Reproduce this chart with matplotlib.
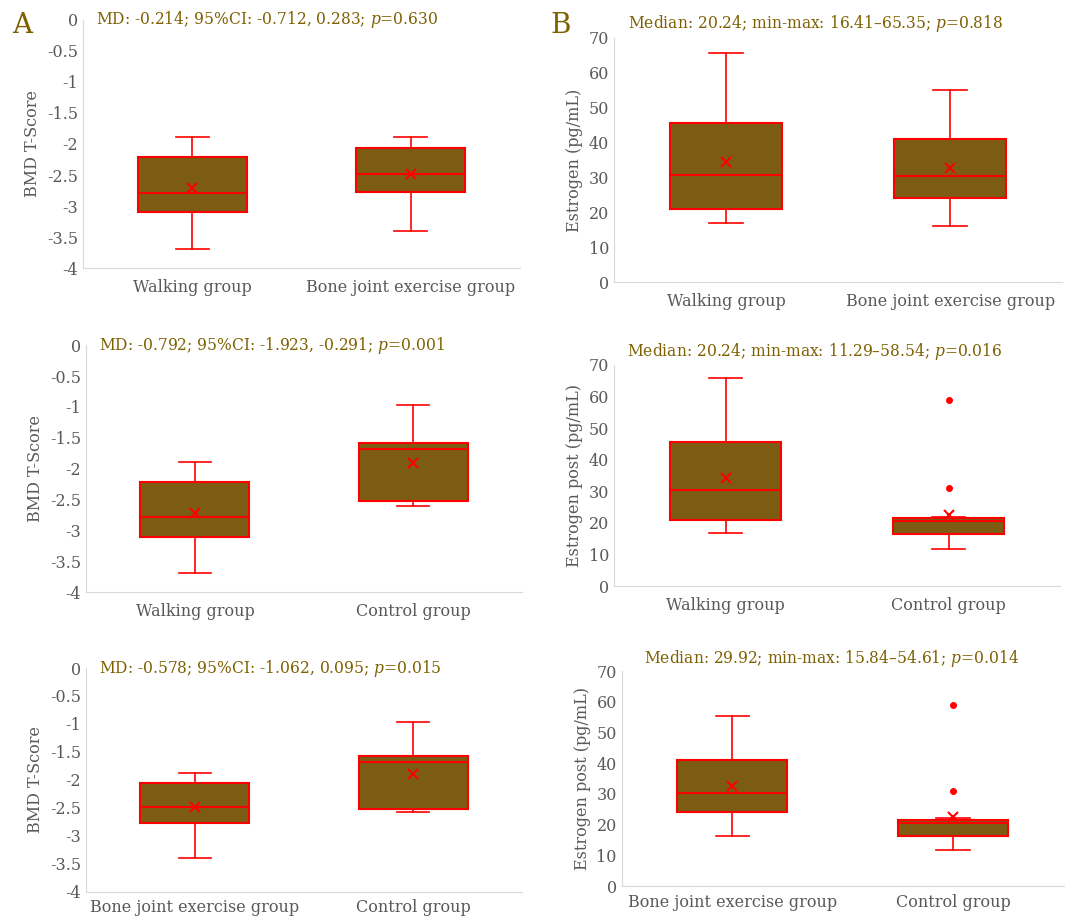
import numpy as np
import matplotlib
matplotlib.use("Agg")
import matplotlib.pyplot as plt

plt.rcParams['font.family'] = ['DejaVu Serif']
plt.rcParams['mathtext.fontset'] = 'dejavuserif'

olive = '#7F6000'
fill = '#7B5C12'
red = '#FF0000'
grey = '#595959'

# panel data: (labels, q1, median, q3, whisker low, whisker high, mean, fliers)
bmd_wc_labels = ['Walking group', 'Bone joint exercise group']
bmd_wc_q1 = [-3.10, -2.77]
bmd_wc_med = [-2.79, -2.48]
bmd_wc_q3 = [-2.21, -2.06]
bmd_wc_lo = [-3.69, -3.40]
bmd_wc_hi = [-1.89, -1.89]
bmd_wc_mean = [-2.71, -2.48]

bmd_wk_labels = ['Walking group', 'Control group']
bmd_wk_q1 = [-3.10, -2.53]
bmd_wk_med = [-2.79, -1.68]
bmd_wk_q3 = [-2.21, -1.58]
bmd_wk_lo = [-3.69, -2.60]
bmd_wk_hi = [-1.89, -0.97]
bmd_wk_mean = [-2.71, -1.90]

bmd_bj_labels = ['Bone joint exercise group', 'Control group']
bmd_bj_q1 = [-2.77, -2.51]
bmd_bj_med = [-2.48, -1.67]
bmd_bj_q3 = [-2.06, -1.57]
bmd_bj_lo = [-3.40, -2.57]
bmd_bj_hi = [-1.88, -0.97]
bmd_bj_mean = [-2.48, -1.89]

est_wc_labels = ['Walking group', 'Bone joint exercise group']
est_wc_q1 = [21.0, 24.0]
est_wc_med = [30.7, 30.5]
est_wc_q3 = [45.6, 40.9]
est_wc_lo = [16.8, 16.2]
est_wc_hi = [65.6, 55.2]
est_wc_mean = [34.3, 32.6]

est_wk_labels = ['Walking group', 'Control group']
est_wk_q1 = [20.9, 16.4]
est_wk_med = [30.3, 20.6]
est_wk_q3 = [45.5, 21.6]
est_wk_lo = [16.9, 11.7]
est_wk_hi = [65.8, 22.0]
est_wk_mean = [34.3, 22.5]
est_wk_fliers = [[], [58.9, 30.9]]

est_bj_labels = ['Bone joint exercise group', 'Control group']
est_bj_q1 = [24.1, 16.4]
est_bj_med = [30.4, 20.6]
est_bj_q3 = [41.0, 21.6]
est_bj_lo = [16.3, 11.7]
est_bj_hi = [55.4, 22.0]
est_bj_mean = [32.7, 22.5]
est_bj_fliers = [[], [58.9, 30.9]]

notes = ['MD: -0.214; 95%CI: -0.712, 0.283; $\\it{p}$=0.630',
         'MD: -0.792; 95%CI: -1.923, -0.291; $\\it{p}$=0.001',
         'MD: -0.578; 95%CI: -1.062, 0.095; $\\it{p}$=0.015',
         'Median: 20.24; min-max: 16.41\u201365.35; $\\it{p}$=0.818',
         'Median: 20.24; min-max: 11.29\u201358.54; $\\it{p}$=0.016',
         'Median: 29.92; min-max: 15.84\u201354.61; $\\it{p}$=0.014']


def make_stats(labels, q1, med, q3, lo, hi, mean, fliers=None):
    out = []
    for i in range(len(labels)):
        out.append(dict(label=labels[i], q1=q1[i], med=med[i], q3=q3[i],
                        whislo=lo[i], whishi=hi[i], mean=mean[i],
                        fliers=np.array(fliers[i] if fliers else [])))
    return out


def draw(ax, stats, ylim, yticks, ylabel, pad=8):
    ax.bxp(stats, positions=[1, 2], widths=0.5, patch_artist=True,
           showmeans=True,
           boxprops=dict(facecolor=fill, edgecolor=red, linewidth=1.5),
           medianprops=dict(color=red, linewidth=1.5),
           whiskerprops=dict(color=red, linewidth=1.2),
           capprops=dict(color=red, linewidth=1.2),
           capwidths=0.15,
           meanprops=dict(marker='x', markeredgecolor=red, markersize=6.5,
                          markeredgewidth=1.5),
           flierprops=dict(marker='o', markerfacecolor=red,
                           markeredgecolor=red, markersize=4))
    ax.set_xlim(0.5, 2.5)
    ax.set_ylim(*ylim)
    ax.set_yticks(yticks)
    ax.set_yticklabels(['%g' % t for t in yticks])
    ax.set_ylabel(ylabel, color=grey, fontsize=11.5)
    for s in ['top', 'right']:
        ax.spines[s].set_visible(False)
    for s in ['left', 'bottom']:
        ax.spines[s].set_color('#D9D9D9')
    ax.tick_params(length=0, colors=grey, labelsize=11.5)
    ax.tick_params(axis='x', labelsize=11.5, pad=pad)


fig = plt.figure(figsize=(10.83, 9.21), dpi=100)

bmd_ticks = np.arange(-4, 0.01, 0.5)
est_ticks = np.arange(0, 71, 10)

ax1 = fig.add_axes([0.0766, 0.709, 0.4035, 0.2693])
draw(ax1, make_stats(bmd_wc_labels, bmd_wc_q1, bmd_wc_med, bmd_wc_q3,
                     bmd_wc_lo, bmd_wc_hi, bmd_wc_mean),
     (-4, 0), bmd_ticks, 'BMD T-Score')
ax2 = fig.add_axes([0.0794, 0.357, 0.4026, 0.2682])
draw(ax2, make_stats(bmd_wk_labels, bmd_wk_q1, bmd_wk_med, bmd_wk_q3,
                     bmd_wk_lo, bmd_wk_hi, bmd_wk_mean),
     (-4, 0), bmd_ticks, 'BMD T-Score')
ax3 = fig.add_axes([0.0794, 0.0315, 0.4026, 0.2432])
draw(ax3, make_stats(bmd_bj_labels, bmd_bj_q1, bmd_bj_med, bmd_bj_q3,
                     bmd_bj_lo, bmd_bj_hi, bmd_bj_mean),
     (-4, 0), bmd_ticks, 'BMD T-Score', pad=5)

ax4 = fig.add_axes([0.567, 0.6938, 0.4137, 0.265])
draw(ax4, make_stats(est_wc_labels, est_wc_q1, est_wc_med, est_wc_q3,
                     est_wc_lo, est_wc_hi, est_wc_mean),
     (0, 70), est_ticks, 'Estrogen (pg/mL)')
ax5 = fig.add_axes([0.567, 0.3637, 0.412, 0.24])
draw(ax5, make_stats(est_wk_labels, est_wk_q1, est_wk_med, est_wk_q3,
                     est_wk_lo, est_wk_hi, est_wk_mean, est_wk_fliers),
     (0, 70), est_ticks, 'Estrogen post (pg/mL)')
ax6 = fig.add_axes([0.574, 0.038, 0.408, 0.2334])
draw(ax6, make_stats(est_bj_labels, est_bj_q1, est_bj_med, est_bj_q3,
                     est_bj_lo, est_bj_hi, est_bj_mean, est_bj_fliers),
     (0, 70), est_ticks, 'Estrogen post (pg/mL)', pad=6)

# notes inside left panels, above right panels
for ax, txt in zip([ax1, ax2, ax3], notes[:3]):
    ax.text(0.03, 1.0, txt, transform=ax.transAxes, color=olive,
            fontsize=11.2, va='center', ha='left')
for ax, txt, x in zip([ax4, ax5, ax6], notes[3:], [0.03, 0.03, 0.05]):
    ax.text(x, 1.06, txt, transform=ax.transAxes, color=olive,
            fontsize=11.2, va='center', ha='left')

fig.text(0.011, 0.972, 'A', fontsize=20, color=olive, va='center')
fig.text(0.508, 0.972, 'B', fontsize=20, color=olive, va='center')

fig.savefig('out.png', dpi=100)
